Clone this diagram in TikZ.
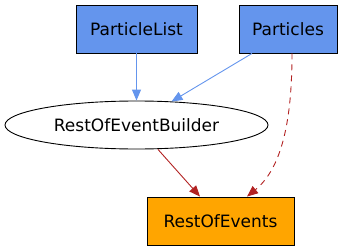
\documentclass[tikz,border=0pt]{standalone}
\usepackage{fontspec}
\setmainfont{DejaVu Sans}
\usetikzlibrary{positioning,arrows.meta,shapes.geometric}

\definecolor{cblue}{HTML}{6495ED}
\definecolor{corange}{HTML}{FFA500}
\definecolor{cred}{HTML}{B22222}

\begin{document}
\begin{tikzpicture}[x=1pt, y=-1pt, >={Triangle[length=11pt, width=9pt]},
  font=\fontsize{17}{20}\selectfont, line width=0.9pt]
  \useasboundingbox (0,0) rectangle (344,251);
  \node[draw, rectangle, fill=cblue, minimum width=121pt, minimum height=48pt] (plist) at (136.5,29) {ParticleList};
  \node[draw, rectangle, fill=cblue, minimum width=98pt, minimum height=48pt] (parts) at (288,29) {Particles};
  \node[draw, ellipse, inner sep=0pt, minimum width=263pt, minimum height=48pt] (builder) at (136.5,125) {RestOfEventBuilder};
  \node[draw, rectangle, fill=corange, minimum width=147pt, minimum height=48pt] (roe) at (220.5,221) {RestOfEvents};

  \coordinate (pa) at ([xshift=-36pt]parts.south);
  \coordinate (pb) at ([xshift=35pt, yshift=-1pt]builder.north);
  \coordinate (pc) at ([xshift=4pt]parts.south);
  \coordinate (ra) at ([xshift=21.5pt]builder.south);
  \coordinate (rb) at ([xshift=-20.5pt]roe.north);
  \coordinate (rc) at ([xshift=26.5pt]roe.north);

  \draw[->, cblue] (plist) -- (builder);
  \draw[->, cblue] (pa) -- (pb);
  \draw[->, cred] (ra) -- (rb);
  \draw[->, cred, dashed, dash pattern=on 6pt off 5pt] (pc) .. controls (292,120) and (282,168) .. (rc);
\end{tikzpicture}
\end{document}
